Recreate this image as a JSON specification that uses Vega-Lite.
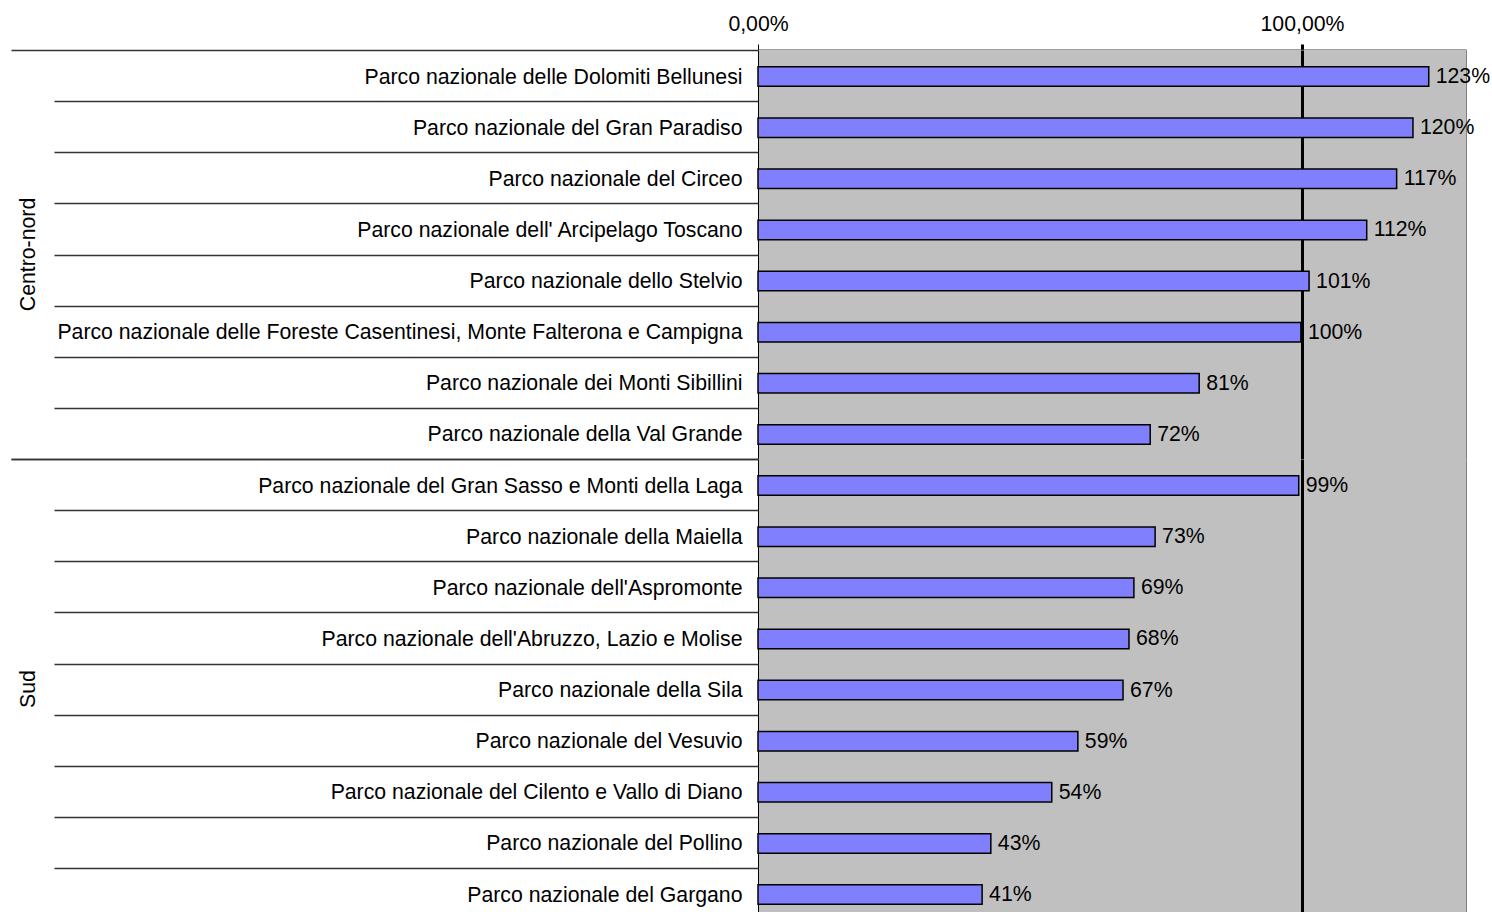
{
  "$schema": "https://vega.github.io/schema/vega-lite/v6.json",
  "autosize": {"type": "pad"},
  "padding": {"left": 10, "top": 13, "right": 0, "bottom": 0},
  "bounds": "flush",
  "config": {
    "locale": {"number": {"decimal": ",", "thousands": ".", "grouping": [3], "currency": ["", " €"]}},
    "font": "Liberation Sans",
    "view": {"fill": "#C0C0C0", "stroke": null},
    "facet": {"spacing": 0}
  },
  "data": {
    "values": [
      {"group": "Centro-nord", "park": "Parco nazionale delle Dolomiti Bellunesi", "value": 1.233},
      {"group": "Centro-nord", "park": "Parco nazionale del Gran Paradiso", "value": 1.204},
      {"group": "Centro-nord", "park": "Parco nazionale del Circeo", "value": 1.174},
      {"group": "Centro-nord", "park": "Parco nazionale dell' Arcipelago Toscano", "value": 1.119},
      {"group": "Centro-nord", "park": "Parco nazionale dello Stelvio", "value": 1.013},
      {"group": "Centro-nord", "park": "Parco nazionale delle Foreste Casentinesi, Monte Falterona e Campigna", "value": 0.998},
      {"group": "Centro-nord", "park": "Parco nazionale dei Monti Sibillini", "value": 0.811},
      {"group": "Centro-nord", "park": "Parco nazionale della Val Grande", "value": 0.721},
      {"group": "Sud", "park": "Parco nazionale del Gran Sasso e Monti della Laga", "value": 0.994},
      {"group": "Sud", "park": "Parco nazionale della Maiella", "value": 0.73},
      {"group": "Sud", "park": "Parco nazionale dell'Aspromonte", "value": 0.691},
      {"group": "Sud", "park": "Parco nazionale dell'Abruzzo, Lazio e Molise", "value": 0.682},
      {"group": "Sud", "park": "Parco nazionale della Sila", "value": 0.671},
      {"group": "Sud", "park": "Parco nazionale del Vesuvio", "value": 0.588},
      {"group": "Sud", "park": "Parco nazionale del Cilento e Vallo di Diano", "value": 0.54},
      {"group": "Sud", "park": "Parco nazionale del Pollino", "value": 0.428},
      {"group": "Sud", "park": "Parco nazionale del Gargano", "value": 0.412}
    ]
  },
  "facet": {
    "row": {
      "field": "group", "type": "nominal", "sort": ["Centro-nord", "Sud"], "title": null,
      "header": {"labelAngle": -90, "labelFontSize": 21.25, "labelFont": "Liberation Sans", "labelColor": "black", "labelPadding": 708, "labelOrient": "left"}
    }
  },
  "spacing": {"row": 0},
  "resolve": {"scale": {"y": "independent"}},
  "spec": {
    "width": 708,
    "height": {"step": 51.125},
    "encoding": {
      "y": {
        "field": "park", "type": "nominal", "sort": null,
        "scale": {"paddingInner": 0, "paddingOuter": 0},
        "axis": {
          "title": null, "domain": false, "tickBand": "extent",
          "tickSize": {"condition": {"test": "datum.extra || datum.value === 'Parco nazionale della Val Grande' || datum.value === 'Parco nazionale del Gargano'", "value": 747}, "value": 704},
          "labelPadding": {"condition": {"test": "datum.extra || datum.value === 'Parco nazionale della Val Grande' || datum.value === 'Parco nazionale del Gargano'", "value": -731}, "value": -688},
          "labelOffset": 1.5,
          "tickColor": "#333", "tickWidth": 1.5,
          "labelFontSize": 21.25, "labelColor": "black", "labelLimit": 0
        }
      },
      "x": {
        "field": "value", "type": "quantitative",
        "scale": {"domain": [0, 1.3015], "nice": false, "zero": true},
        "axis": {
          "orient": "top", "values": [0, 1, 1.3015], "format": ".2%", "labelFlush": false,
          "labelExpr": "datum.value > 1.2 ? '' : datum.label", "title": null,
          "grid": true,
          "gridColor": {"condition": {"test": "datum.value > 1.2", "value": "#808080"}, "value": "black"},
          "gridWidth": {"condition": {"test": "datum.value === 1", "value": 3}, "value": 1},
          "tickColor": "black",
          "tickWidth": {"condition": {"test": "datum.value === 1", "value": 3}, "value": 1},
          "tickOpacity": {"condition": {"test": "datum.value > 1.2", "value": 0}, "value": 1},
          "tickSize": 6, "domainColor": "#404040", "domainWidth": 2,
          "labelFontSize": 21.25, "labelColor": "black", "labelPadding": 10
        }
      }
    },
    "layer": [
      {"mark": {"type": "bar", "fill": "#8080FF", "stroke": "black", "strokeWidth": 1.5, "height": {"band": 0.38}, "yOffset": 1}},
      {"mark": {"type": "text", "align": "left", "dx": 7, "dy": 1.5, "fontSize": 21.25, "color": "black"}, "encoding": {"text": {"field": "value", "type": "quantitative", "format": ".0%"}}}
    ]
  }
}
